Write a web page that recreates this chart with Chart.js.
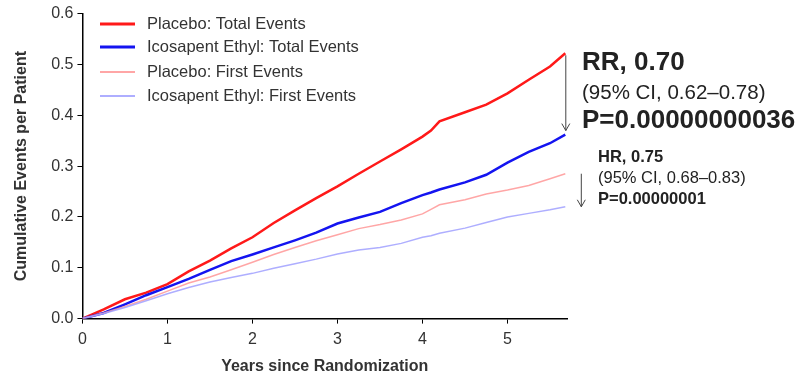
<!DOCTYPE html>
<html>
<head>
<meta charset="utf-8">
<script src="https://cdn.jsdelivr.net/npm/chart.js@4"></script>
<style>
  html, body { margin: 0; padding: 0; background: #fff; }
  #wrap { width: 797px; height: 377px; }
</style>
</head>
<body>
<div id="wrap"><canvas id="chart" width="797" height="377"></canvas></div>
<script>
// years since randomization
const years = [0, 0.25, 0.5, 0.75, 1, 1.25, 1.5, 1.75, 2, 2.25, 2.5, 2.75, 3, 3.25, 3.5, 3.75, 4, 4.1, 4.2, 4.5, 4.75, 5, 5.25, 5.5, 5.68];

const placeboTotal = [0, 0.018, 0.038, 0.051, 0.068, 0.093, 0.114, 0.138, 0.160, 0.188, 0.213, 0.237, 0.260, 0.285, 0.309, 0.333, 0.358, 0.370, 0.388, 0.406, 0.421, 0.443, 0.470, 0.496, 0.522];
const ipeTotal = [0, 0.011, 0.028, 0.046, 0.062, 0.078, 0.096, 0.113, 0.126, 0.140, 0.154, 0.169, 0.187, 0.199, 0.210, 0.227, 0.243, 0.248, 0.254, 0.268, 0.283, 0.307, 0.328, 0.345, 0.362];
const placeboFirst = [0, 0.011, 0.024, 0.038, 0.054, 0.070, 0.082, 0.096, 0.111, 0.126, 0.140, 0.153, 0.165, 0.177, 0.185, 0.194, 0.206, 0.215, 0.224, 0.234, 0.245, 0.253, 0.262, 0.275, 0.285];
const ipeFirst = [0, 0.010, 0.022, 0.035, 0.049, 0.061, 0.072, 0.081, 0.089, 0.099, 0.108, 0.117, 0.127, 0.135, 0.140, 0.148, 0.160, 0.163, 0.168, 0.178, 0.189, 0.200, 0.207, 0.214, 0.220];

const seriesNames = ['Placebo: Total Events', 'Icosapent Ethyl: Total Events', 'Placebo: First Events', 'Icosapent Ethyl: First Events'];
const yTicks = [0, 0.1, 0.2, 0.3, 0.4, 0.5, 0.6];
const xTicks = [0, 1, 2, 3, 4, 5];

const rrText = ['RR, 0.70', '(95% CI, 0.62\u20130.78)', 'P=0.00000000036'];
const hrText = ['HR, 0.75', '(95% CI, 0.68\u20130.83)', 'P=0.00000001'];

const FONT = '"Liberation Sans", Arial, sans-serif';

function pts(vals) {
  return years.map((x, i) => ({ x: x, y: vals[i] }));
}

const colors = ['rgb(255,25,25)', 'rgb(20,20,240)', 'rgba(255,150,150,0.85)', 'rgba(160,160,255,0.85)'];
const widths = [2.5, 2.5, 1.5, 1.5];
const allSeries = [placeboTotal, ipeTotal, placeboFirst, ipeFirst];

// draw legend, arrows and the RR / HR notes
const notes = {
  id: 'notes',
  afterDraw(chart) {
    const ctx = chart.ctx;
    const xs = chart.scales.x, ys = chart.scales.y;
    ctx.save();

    // legend
    const rows = [24, 47, 72, 96];
    rows.forEach((ry, i) => {
      ctx.strokeStyle = colors[i];
      ctx.lineWidth = i < 2 ? 3 : 2;
      ctx.beginPath();
      ctx.moveTo(100, ry);
      ctx.lineTo(135, ry);
      ctx.stroke();
      ctx.fillStyle = '#333';
      ctx.font = '16.5px ' + FONT;
      ctx.textBaseline = 'middle';
      ctx.fillText(seriesNames[i], 147, ry);
    });

    // arrows between end points
    const last = years.length - 1;
    function arrow(x, y1, y2) {
      ctx.strokeStyle = '#444';
      ctx.lineWidth = 1;
      ctx.beginPath();
      ctx.moveTo(x, y1);
      ctx.lineTo(x, y2);
      ctx.moveTo(x - 4, y2 - 7);
      ctx.lineTo(x, y2);
      ctx.lineTo(x + 4, y2 - 7);
      ctx.stroke();
    }
    const xEnd = xs.getPixelForValue(years[last]);
    arrow(xEnd + 0.5, ys.getPixelForValue(placeboTotal[last]) + 2, ys.getPixelForValue(ipeTotal[last]) - 4);
    arrow(xEnd + 16, ys.getPixelForValue(placeboFirst[last]), ys.getPixelForValue(ipeFirst[last]));

    // RR block
    ctx.fillStyle = '#222';
    ctx.textBaseline = 'middle';
    ctx.font = 'bold 26px ' + FONT;
    ctx.fillText(rrText[0], 582, 63);
    ctx.font = '20.5px ' + FONT;
    ctx.fillText(rrText[1], 582, 93);
    ctx.font = 'bold 26px ' + FONT;
    ctx.fillText(rrText[2], 582, 121);

    // HR block
    ctx.font = 'bold 16.5px ' + FONT;
    ctx.fillText(hrText[0], 598, 157);
    ctx.font = '16.5px ' + FONT;
    ctx.fillText(hrText[1], 598, 178);
    ctx.font = 'bold 16.5px ' + FONT;
    ctx.fillText(hrText[2], 598, 199);

    ctx.restore();
  }
};

new Chart(document.getElementById('chart'), {
  type: 'line',
  data: {
    datasets: allSeries.map((vals, i) => ({
      label: seriesNames[i],
      data: pts(vals),
      borderColor: colors[i],
      borderWidth: widths[i],
      pointRadius: 0,
      tension: 0,
      fill: false,
      order: 4 - i
    }))
  },
  options: {
    responsive: false,
    animation: false,
    layout: { padding: { left: 12, right: 230, top: 11, bottom: 1 } },
    plugins: { legend: { display: false }, tooltip: { enabled: false } },
    scales: {
      x: {
        type: 'linear',
        min: 0,
        max: 5.7,
        afterBuildTicks(axis) {
          axis.ticks = xTicks.map(v => ({ value: v }));
        },
        ticks: { color: '#333', font: { family: FONT, size: 16 }, padding: 6, maxRotation: 0 },
        grid: { drawOnChartArea: false, drawTicks: true, tickLength: 5, color: '#000' },
        border: { color: '#000', width: 1.5 },
        title: { display: true, text: 'Years since Randomization', color: '#333', font: { family: FONT, size: 16, weight: 'bold' }, padding: { top: 2, bottom: 0 } }
      },
      y: {
        min: 0,
        max: 0.6,
        afterBuildTicks(axis) {
          axis.ticks = yTicks.map(v => ({ value: v }));
        },
        ticks: { color: '#333', font: { family: FONT, size: 16 }, padding: 4, callback: v => v.toFixed(1) },
        grid: { drawOnChartArea: false, drawTicks: true, tickLength: 5, color: '#000' },
        border: { color: '#000', width: 1.5 },
        title: { display: true, text: 'Cumulative Events per Patient', color: '#333', font: { family: FONT, size: 16, weight: 'bold' }, padding: { top: 0, bottom: 16 } }
      }
    }
  },
  plugins: [notes]
});
</script>
</body>
</html>
